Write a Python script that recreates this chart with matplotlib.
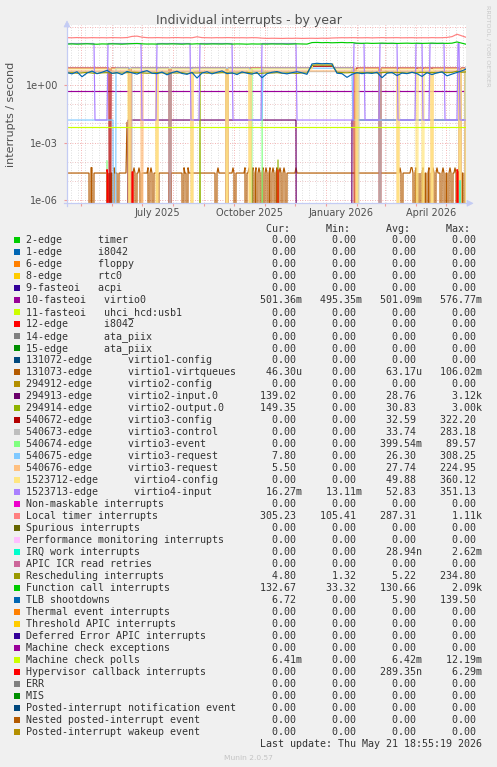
import numpy as np
import pandas as pd
import matplotlib
matplotlib.use("Agg")
import matplotlib.pyplot as plt
from matplotlib.patches import Rectangle, Polygon
from matplotlib.lines import Line2D

W, H = 497, 767

# ---------------- data ----------------
start = "2025-04-17"
n_days = 400
grid5 = list(range(0, 400, 5)) + [399]

labels = [
    "2-edge      timer", "1-edge      i8042", "6-edge      floppy", "8-edge      rtc0",
    "9-fasteoi   acpi", "10-fasteoi   virtio0", "11-fasteoi   uhci_hcd:usb1",
    "12-edge      i8042", "14-edge      ata_piix", "15-edge      ata_piix",
    "131072-edge      virtio1-config", "131073-edge      virtio1-virtqueues",
    "294912-edge      virtio2-config", "294913-edge      virtio2-input.0",
    "294914-edge      virtio2-output.0", "540672-edge      virtio3-config",
    "540673-edge      virtio3-control", "540674-edge      virtio3-event",
    "540675-edge      virtio3-request", "540676-edge      virtio3-request",
    "1523712-edge      virtio4-config", "1523713-edge      virtio4-input",
    "Non-maskable interrupts", "Local timer interrupts", "Spurious interrupts",
    "Performance monitoring interrupts", "IRQ work interrupts", "APIC ICR read retries",
    "Rescheduling interrupts", "Function call interrupts", "TLB shootdowns",
    "Thermal event interrupts", "Threshold APIC interrupts", "Deferred Error APIC interrupts",
    "Machine check exceptions", "Machine check polls", "Hypervisor callback interrupts",
    "ERR", "MIS", "Posted-interrupt notification event", "Nested posted-interrupt event",
    "Posted-interrupt wakeup event",
]
colors = [
    "#00CC00", "#0066B3", "#FF8000", "#FFCC00", "#330099", "#990099", "#CCFF00", "#FF0000",
    "#808080", "#008F00", "#00487D", "#B35A00", "#B38F00", "#6B006B", "#8FB300", "#B30000",
    "#BEBEBE", "#80FF80", "#80C9FF", "#FFC080", "#FFE680", "#AA80FF", "#EE00CC", "#FF8080",
    "#666600", "#FFBFFF", "#00FFCC", "#CC6699", "#999900", "#00CC00", "#0066B3", "#FF8000",
    "#FFCC00", "#330099", "#990099", "#CCFF00", "#FF0000", "#808080", "#008F00", "#00487D",
    "#B35A00", "#B38F00",
]
Z = "0.00"
cur_vals = [Z, Z, Z, Z, Z, "501.36m", Z, Z, Z, Z, Z, "46.30u", Z, "139.02", "149.35", Z, Z, Z,
            "7.80", "5.50", Z, "16.27m", Z, "305.23", Z, Z, Z, Z, "4.80", "132.67", "6.72",
            Z, Z, Z, Z, "6.41m", Z, Z, Z, Z, Z, Z]
min_vals = [Z, Z, Z, Z, Z, "495.35m", Z, Z, Z, Z, Z, Z, Z, Z, Z, Z, Z, Z,
            Z, Z, Z, "13.11m", Z, "105.41", Z, Z, Z, Z, "1.32", "33.32", Z,
            Z, Z, Z, Z, Z, Z, Z, Z, Z, Z, Z]
avg_vals = [Z, Z, Z, Z, Z, "501.09m", Z, Z, Z, Z, Z, "63.17u", Z, "28.76", "30.83", "32.59",
            "33.74", "399.54m", "26.30", "27.74", "49.88", "52.83", Z, "287.31", Z, Z,
            "28.94n", Z, "5.22", "130.66", "5.90", Z, Z, Z, Z, "6.42m", "289.35n", Z, Z, Z, Z, Z]
max_vals = [Z, Z, Z, Z, Z, "576.77m", Z, Z, Z, Z, Z, "106.02m", Z, "3.12k", "3.00k", "322.20",
            "283.18", "89.57", "308.25", "224.95", "360.12", "351.13", Z, "1.11k", Z, Z,
            "2.62m", Z, "234.80", "2.09k", "139.50", Z, Z, Z, Z, "12.19m", "6.29m", Z, Z, Z, Z, Z]

# 5-day sampled noisy series
local_timer_5d = [292, 288, 295, 290, 286, 293, 289, 291, 287, 294,
                  290, 288, 296, 340, 352, 310, 292, 289, 294, 290,
                  287, 292, 295, 289, 291, 288, 325, 293, 290, 287,
                  292, 289, 294, 291, 288, 290, 286, 292, 289, 275,
                  268, 272, 270, 266, 271, 269, 273, 267, 270, 272,
                  268, 275, 271, 280, 286, 290, 288, 292, 289, 287,
                  291, 285, 289, 293, 288, 290, 292, 287, 289, 291,
                  286, 290, 288, 293, 289, 291, 300, 330, 440, 360, 305]
function_call_5d = [135, 138, 134, 137, 140, 136, 133, 138, 136, 139,
                    137, 134, 138, 142, 145, 139, 136, 137, 135, 138,
                    136, 139, 137, 134, 138, 136, 140, 137, 135, 138,
                    137, 136, 139, 135, 138, 137, 134, 138, 136, 137,
                    135, 138, 136, 137, 134, 136, 139, 137, 135, 162,
                    165, 160, 163, 158, 161, 164, 159, 162, 150, 148,
                    151, 147, 149, 152, 148, 150, 146, 149, 151, 148,
                    150, 147, 149, 152, 148, 150, 147, 151, 175, 150, 133]
tlb_5d = [4.5, 3.8, 4.9, 2.7, 4.2, 5.3, 3.9, 4.6, 5.8, 4.0,
          4.4, 3.5, 5.1, 4.3, 3.7, 4.8, 5.6, 4.1, 3.9, 4.7,
          3.4, 4.4, 5.2, 4.0, 3.6, 4.5, 2.3, 4.2, 4.9, 3.8,
          4.6, 5.4, 3.9, 4.3, 3.5, 4.8, 4.1, 3.7, 4.5, 2.4,
          3.9, 4.6, 5.0, 4.2, 3.8, 4.4, 4.9, 4.3, 3.6, 12.5,
          13.5, 12.8, 13.2, 12.6, 4.1, 3.9, 2.5, 3.6, 4.4, 3.9,
          4.3, 4.0, 4.6, 2.4, 4.1, 4.5, 3.1, 4.2, 3.9, 4.6,
          3.9, 2.8, 4.4, 3.5, 4.3, 4.8, 3.0, 3.7, 4.5, 5.5, 6.7]
resched_5d = [4.2, 4.4, 4.1, 4.3, 4.5, 4.2, 4.0, 4.3, 4.4, 4.1,
              4.3, 4.2, 4.4, 4.6, 4.5, 4.3, 4.1, 4.2, 4.4, 4.3,
              4.1, 4.3, 4.2, 4.4, 4.0, 4.3, 4.2, 4.4, 4.1, 4.3,
              4.2, 4.4, 4.3, 4.1, 4.2, 4.3, 4.5, 4.2, 4.0, 4.1,
              4.3, 4.2, 4.4, 4.1, 4.3, 4.2, 4.0, 4.3, 4.2, 10.5,
              11.2, 10.8, 11.0, 10.6, 4.6, 4.4, 4.3, 4.5, 4.2, 4.4,
              4.3, 4.5, 4.2, 4.4, 4.6, 4.3, 4.5, 4.4, 4.2, 4.5,
              4.3, 4.6, 4.4, 4.5, 4.3, 4.7, 4.4, 4.5, 5.2, 4.6, 4.8]

# daily series described as (start_day, level) runs, drop days (value 0) and spikes
virtio0_runs = [(0, 0.50)]
mc_polls_runs = [(0, 0.0064)]
virtq_runs = [(0, 2.6e-5)]
virtq_zero_days = [23, 26, 41, 43, 46, 51, 62, 65, 69, 74, 82, 86, 91, 103, 116, 120, 149, 160,
                   168, 179, 184, 187, 190, 194, 197, 201, 204, 208, 211, 215, 219, 335, 347,
                   350, 352, 354, 357, 360, 363, 368, 374, 378, 381, 385, 390, 394, 397]
virtq_peak_days = [24, 25, 47, 63, 67, 72, 81, 84, 117, 121, 151, 166, 178, 182, 186, 189, 192,
                   196, 199, 203, 206, 210, 213, 217, 229, 333, 344, 345, 349, 356, 362, 366,
                   370, 376, 383, 388, 392]
virtq_peak = 5e-5
virtq_spikes = {60: 0.012}
v2_input_runs = [(0, 0), (61, 0.015), (230, 0), (285, 0.015)]
v2_output_runs = [(0, 0)]
v2_output_spikes = {133: 5.0, 211: 1.3e-4, 392: 6e-5}
v3_config_runs = [(0, 7.6), (246, 9.5), (267, 7.6)]
v3_config_drops = [43, 63, 103, 160, 288, 313, 393, 399]
v3_control_runs = [(0, 5.0)]
v3_control_drops = [64, 103, 160, 291, 313, 393, 399]
v3_event_runs = [(0, 0), (185, 7.2), (196, 0)]
v3_event_spikes = {40: 1.2e-4}
v3_req1_runs = [(0, 0.015), (47, 0), (49, 7.5), (184, 0.015), (196, 7.5), (286, 0.015), (399, 7.8)]
v3_req2_runs = [(0, 5.4)]
v3_req2_drops = [63, 75, 90, 125, 160, 183, 289, 331, 365, 393]
v4_config_runs = [(0, 6.9), (246, 12.8), (267, 6.9)]
v4_config_drops = [62, 90, 125, 160, 183, 290, 331, 350, 356, 365, 393, 399]
v4_input_runs = [(0, 145), (28, 0.015), (41, 145), (75, 0.015), (90, 145), (124, 0.015),
                 (133, 145), (166, 0.015), (195, 145), (230, 0.015), (287, 145), (298, 0.015),
                 (313, 145), (331, 0.015), (349, 145), (356, 0.015), (363, 145), (378, 0.015),
                 (391, 145), (393, 0.015)]
irq_work_spikes = {393: 1.1e-5}
hyperv_spikes = {40: 4e-5, 41: 2e-5, 65: 3e-5, 66: 3e-5, 211: 4e-5, 390: 4e-5, 391: 3e-5}

month_label_dates = ["2025-07-16", "2025-10-16", "2026-01-16", "2026-04-16"]
month_label_texts = ["July 2025", "October 2025", "January 2026", "April 2026"]
ytick_vals = [1e0, 1e-3, 1e-6]
ytick_texts = ["1e+00", "1e-03", "1e-06"]


# ---------------- helpers ----------------
def from_runs(runs, drops=(), spikes=None):
    arr = np.zeros(n_days)
    for i, (d0, v) in enumerate(runs):
        d1 = runs[i + 1][0] if i + 1 < len(runs) else n_days
        arr[d0:d1] = v
    for d in drops:
        arr[d] = 0.0
    if spikes:
        for d, v in spikes.items():
            arr[d] = v
    return arr


def fx(x):
    return x / W


def fy(y):
    return 1 - y / H


days = pd.date_range(start, periods=n_days, freq="D")
days5 = days[grid5]

virtq = from_runs(virtq_runs, virtq_zero_days, virtq_spikes)
virtq[virtq_peak_days] = virtq_peak

series = {
    5: (days, from_runs(virtio0_runs)),
    11: (days, virtq),
    13: (days, from_runs(v2_input_runs)),
    14: (days, from_runs(v2_output_runs, spikes=v2_output_spikes)),
    15: (days, from_runs(v3_config_runs, v3_config_drops)),
    16: (days, from_runs(v3_control_runs, v3_control_drops)),
    17: (days, from_runs(v3_event_runs, spikes=v3_event_spikes)),
    18: (days, from_runs(v3_req1_runs)),
    19: (days, from_runs(v3_req2_runs, v3_req2_drops)),
    20: (days, from_runs(v4_config_runs, v4_config_drops)),
    21: (days, from_runs(v4_input_runs)),
    23: (days5, np.array(local_timer_5d, float)),
    26: (days, from_runs([(0, 0)], spikes=irq_work_spikes)),
    28: (days5, np.array(resched_5d, float)),
    29: (days5, np.array(function_call_5d, float)),
    30: (days5, np.array(tlb_5d, float)),
    35: (days, from_runs(mc_polls_runs)),
    36: (days, from_runs([(0, 0)], spikes=hyperv_spikes)),
}

# ---------------- figure ----------------
fig = plt.figure(figsize=(W / 100, H / 100), dpi=100, facecolor="#F0F0F0")
ax = fig.add_axes([fx(67), fy(203.3), 399 / W, 178.3 / H])
ax.set_facecolor("white")
ax.set_yscale("log")
ax.set_ylim(10 ** -6.161, 10 ** 3.125)
ax.set_xlim(days[0], days[-1])
for s in ax.spines.values():
    s.set_visible(False)

# grid
for d in pd.date_range(days[0], days[-1], freq="W-MON"):
    if d.day != 1:
        ax.axvline(d, color="#D4D4D4", lw=0.6, dashes=(1, 2), zorder=0.5)
for d in pd.date_range(days[0], days[-1], freq="MS"):
    ax.axvline(d, color="#F09A9A", lw=0.6, dashes=(1, 2), zorder=0.6)
for e in range(-6, 4):
    ax.axhline(10.0 ** e, color="#F09A9A" if e % 3 == 0 else "#E6B4B4", lw=0.6,
               dashes=(1, 2), zorder=0.6)

# series (drawn in legend order)
for idx in sorted(series):
    x, y = series[idx]
    yy = np.where(y > 0, y, 1e-30)
    ax.plot(x, yy, color=colors[idx], lw=0.85, zorder=2 + idx * 0.01, solid_joinstyle="miter")

# ticks
ax.set_xticks(pd.to_datetime(month_label_dates))
ax.set_xticklabels(month_label_texts)
ax.tick_params(axis="x", length=0, pad=3.2, labelsize=7, labelcolor="#505050")
ax.set_xticks(pd.date_range(days[0], days[-1], freq="MS"), minor=True)
ax.tick_params(axis="x", which="minor", length=2, color="#F09A9A", width=0.8)
ax.set_yticks(ytick_vals)
ax.set_yticklabels(ytick_texts)
ax.yaxis.set_minor_locator(matplotlib.ticker.NullLocator())
ax.tick_params(axis="y", length=2, color="#F09A9A", width=0.8, pad=4.5,
               labelsize=7, labelcolor="#505050")

# axis lines with arrows
axc = "#C4CCF4"
fig.add_artist(Line2D([fx(67), fx(67)], [fy(206), fy(24)], color=axc, lw=0.9))
fig.add_artist(Line2D([fx(64), fx(469)], [fy(203.3), fy(203.3)], color=axc, lw=0.9))
fig.add_artist(Polygon([[fx(64), fy(27)], [fx(70), fy(27)], [fx(67), fy(21)]], closed=True,
                       transform=fig.transFigure, facecolor=axc, edgecolor=axc, lw=0.5))
fig.add_artist(Polygon([[fx(467), fy(200.3)], [fx(467), fy(206.3)], [fx(473), fy(203.3)]],
                       closed=True, transform=fig.transFigure, facecolor=axc, edgecolor=axc, lw=0.5))

# titles
fig.text(fx(248.5), fy(24), "Individual interrupts - by year", ha="center", va="baseline",
         fontsize=9, color="#505050")
fig.text(fx(11.5), fy(114), "interrupts / second", rotation=90, ha="center", va="center",
         fontsize=8, color="#505050")
fig.text(fx(487.5), fy(5), "RRDTOOL / TOBI OETIKER", rotation=270, ha="center", va="top",
         fontsize=4.6, color="#C8C8C8")

# legend table
TXT = "#333333"
MONO = "DejaVu Sans Mono"
CW = 6.0
X0 = 26.3


def fmt(s):
    s = s if s[-1].isalpha() else s + " "
    return s.rjust(7)


fig.text(fx(X0 + 40 * CW), fy(231.5), "Cur:      Min:      Avg:      Max:", family=MONO,
         fontsize=7.2, color=TXT, ha="left", va="baseline")
for i, lab in enumerate(labels):
    yc = 239.7 + 12.0 * i
    row = (lab.ljust(39) + fmt(cur_vals[i]) + "   " + fmt(min_vals[i]) + "   "
           + fmt(avg_vals[i]) + "   " + fmt(max_vals[i]))
    fig.text(fx(X0), fy(yc + 3.4), row, family=MONO, fontsize=7.2, color=TXT,
             ha="left", va="baseline")
    fig.add_artist(Rectangle((fx(14), fy(yc + 3)), 6 / W, 6 / H, transform=fig.transFigure,
                             facecolor=colors[i], edgecolor="none"))
fig.text(fx(X0 + 39 * CW), fy(746.8), "Last update: Thu May 21 18:55:19 2026", family=MONO,
         fontsize=7.2, color=TXT, ha="left", va="baseline")
fig.text(fx(248), fy(759.5), "Munin 2.0.57", ha="center", va="baseline", fontsize=5.4,
         color="#C4C4C4")

fig.savefig("out.png", dpi=100, facecolor=fig.get_facecolor())
